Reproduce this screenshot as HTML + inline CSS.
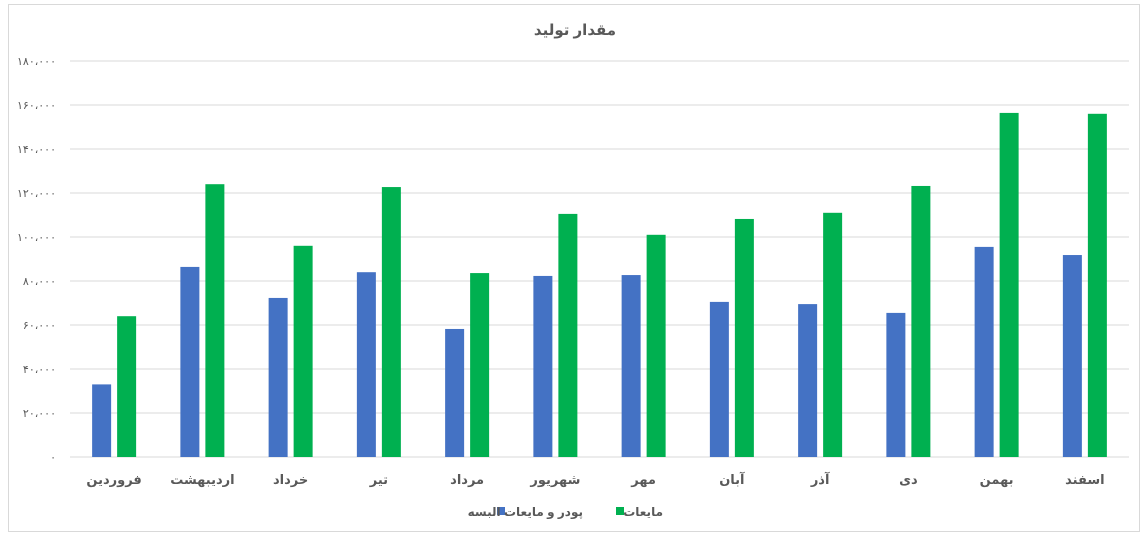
<!DOCTYPE html>
<html><head><meta charset="utf-8"><style>
body{margin:0;background:#fff;width:1148px;height:538px;overflow:hidden;font-family:"Liberation Sans","DejaVu Sans",sans-serif}
#frame{position:absolute;left:8px;top:4px;width:1132px;height:528px;border:1px solid #d9d9d9;box-sizing:border-box}
</style></head><body>
<div id="frame"></div>
<svg id="chart" width="1148" height="538" style="position:absolute;left:0;top:0">
<text x="575" y="35" text-anchor="middle" font-size="15" font-weight="bold" fill="#595959">مقدار تولید</text>
</svg>
<script>
const categories=["فروردین","اردیبهشت","خرداد","تیر","مرداد","شهریور","مهر","آبان","آذر","دی","بهمن","اسفند"];
const powderValues=[33000,86400,72300,84000,58200,82300,82700,70500,69500,65500,95500,91800];
const liquidValues=[64000,124000,96000,122700,83600,110500,101000,108200,111000,123200,156400,156000];
const tickValues=[0,20000,40000,60000,80000,100000,120000,140000,160000,180000];
const tickLabels=["۰","۲۰،۰۰۰","۴۰،۰۰۰","۶۰،۰۰۰","۸۰،۰۰۰","۱۰۰،۰۰۰","۱۲۰،۰۰۰","۱۴۰،۰۰۰","۱۶۰،۰۰۰","۱۸۰،۰۰۰"];
const seriesNames=["پودر و مایعات البسه","مایعات"];
const svg=document.getElementById('chart');const NS='http://www.w3.org/2000/svg';
const X0=70,X1=1129,Y0=457,Y1=61,YMAX=180000;
const y=v=>Y0-(v/YMAX)*(Y0-Y1);
const bw=(X1-X0)/categories.length;
const xc=i=>X0+bw*(i+0.5);
function mk(t,a){const e=document.createElementNS(NS,t);for(const k in a)e.setAttribute(k,a[k]);svg.appendChild(e);return e;}
tickValues.forEach((v,i)=>{
 const l=mk('line',{x1:X0,x2:X1,y1:y(v),y2:y(v),stroke:'#d9d9d9','stroke-width':1});
 
 
 const t=mk('text',{x:56,y:y(v)+4,'text-anchor':'end','font-size':11,fill:'#595959'});
 t.textContent=tickLabels[i];
 
 
});
categories.forEach((c,i)=>{
 const b=mk('rect',{x:xc(i)-22,y:y(powderValues[i]),width:19,height:Y0-y(powderValues[i]),fill:'#4472c4'});
 
 
 const g=mk('rect',{x:xc(i)+3,y:y(liquidValues[i]),width:19,height:Y0-y(liquidValues[i]),fill:'#00b050'});
 
 
 const t=mk('text',{x:xc(i),y:484,'text-anchor':'middle','font-size':13,'font-weight':'bold',fill:'#595959'});
 t.textContent=c;
 
 
});
// legend
const lg=[{x:497,c:'#4472c4',n:seriesNames[0],tx:583},{x:616,c:'#00b050',n:seriesNames[1],tx:663}];
lg.forEach(o=>{
 const r=mk('rect',{x:o.x,y:507,width:8,height:8,fill:o.c});
 
 
 const t=mk('text',{x:o.tx,y:516,'text-anchor':'end','font-size':12,'font-weight':'bold',fill:'#595959'});
 t.textContent=o.n;
 
 
});
</script>
</body></html>
